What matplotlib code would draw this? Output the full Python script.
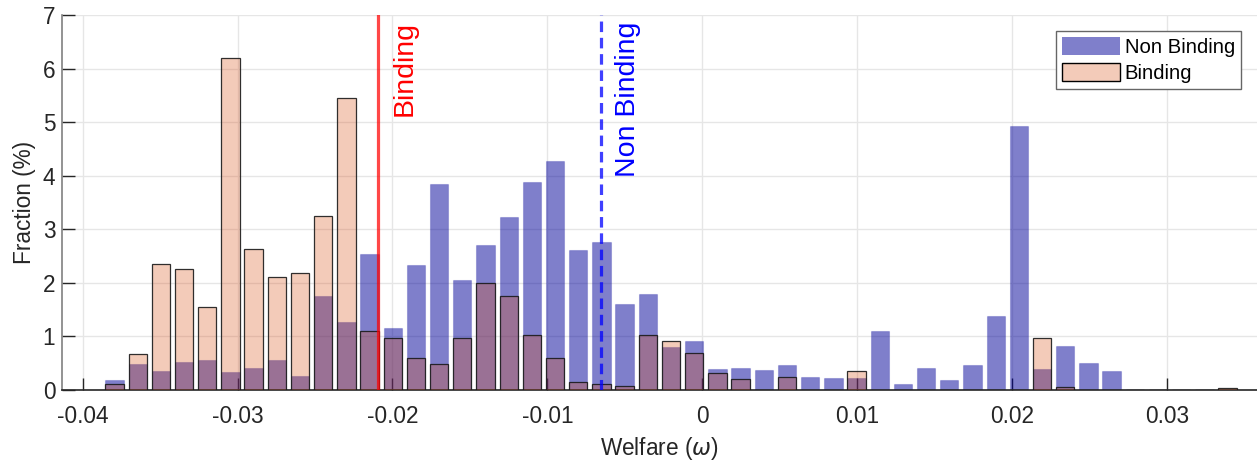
import numpy as np
import matplotlib
matplotlib.use("Agg")
import matplotlib.pyplot as plt
from matplotlib.patches import Patch

plt.rcParams['font.family'] = ['Liberation Sans', 'DejaVu Sans']
plt.rcParams['mathtext.fontset'] = 'dejavusans'

# histogram bins (49 bins of equal width)
bin_lo = -0.03869
bin_hi = 0.03465
n_bins = 49

# fraction (%) per bin
non_binding = [0.19, 0.49, 0.36, 0.52, 0.56, 0.33, 0.42, 0.56, 0.27, 1.75,
               1.27, 2.53, 1.15, 2.33, 3.84, 2.06, 2.71, 3.23, 3.88, 4.28,
               2.61, 2.77, 1.60, 1.79, 0.81, 0.92, 0.40, 0.41, 0.37, 0.46,
               0.24, 0.22, 0.22, 1.10, 0.11, 0.41, 0.19, 0.46, 1.38, 4.93,
               0.40, 0.83, 0.51, 0.36, 0.0, 0.0, 0.0, 0.0, 0.0]
binding = [0.11, 0.67, 2.36, 2.25, 1.55, 6.20, 2.63, 2.11, 2.19, 3.25,
           5.46, 1.10, 0.98, 0.59, 0.49, 0.97, 1.99, 1.75, 1.03, 0.59,
           0.15, 0.11, 0.08, 1.03, 0.91, 0.70, 0.31, 0.21, 0.0, 0.24,
           0.0, 0.0, 0.36, 0.0, 0.0, 0.0, 0.0, 0.0, 0.0, 0.0,
           0.97, 0.05, 0.0, 0.0, 0.0, 0.0, 0.0, 0.0, 0.04]

# mean welfare of each group
binding_mean = -0.02094
non_binding_mean = -0.00652

xticks = [-0.04, -0.03, -0.02, -0.01, 0, 0.01, 0.02, 0.03]
xtick_labels = ['-0.04', '-0.03', '-0.02', '-0.01', '0', '0.01', '0.02', '0.03']
yticks = [0, 1, 2, 3, 4, 5, 6, 7]

edges = np.linspace(bin_lo, bin_hi, n_bins + 1)
centers = 0.5 * (edges[:-1] + edges[1:])
bw = edges[1] - edges[0]

W, H = 1257, 463
fig = plt.figure(figsize=(W / 100, H / 100), dpi=100)
ax = fig.add_axes([62.3 / W, 1 - 390 / H, (W - 62.3) / W, 375 / H])

nb_face = (0.0, 0.0, 0.6, 0.5)
b_face = (0.85, 0.325, 0.098, 0.3)

ax.bar(centers, non_binding, width=0.79 * bw, color=nb_face,
       edgecolor=(0.0, 0.0, 0.6, 0.2), linewidth=0.8, zorder=2)
ax.bar(centers, binding, width=0.79 * bw, color=b_face,
       edgecolor=(0.1, 0.1, 0.1, 0.9), linewidth=0.9, zorder=3)

ax.axvline(binding_mean, color=(1, 0, 0, 0.72), lw=2.3, zorder=4)
ax.axvline(non_binding_mean, color=(0, 0, 1, 0.75), lw=2.3,
           linestyle=(0, (3.3, 1.8)), zorder=4)

ax.text(-0.01921, 6.88, 'Binding', rotation=90, color='red', fontsize=20.5,
        ha='center', va='top', zorder=5)
ax.text(-0.00483, 6.88, 'Non Binding', rotation=90, color='blue', fontsize=20.5,
        ha='center', va='top', zorder=5)

ax.set_xlim(-0.04131, 0.0358)
ax.set_ylim(0, 7)
ax.set_xticks(xticks)
ax.set_xticklabels(xtick_labels)
ax.set_yticks(yticks)

ax.grid(True, color='#e6e6e6', lw=1.0)
ax.set_axisbelow(True)

for s in ['top', 'right']:
    ax.spines[s].set_visible(False)
ax.spines['left'].set_color('#808080')
ax.spines['left'].set_linewidth(1.2)
ax.spines['bottom'].set_color('#262626')
ax.spines['bottom'].set_linewidth(1.2)

ax.tick_params(axis='both', direction='in', length=9, width=1.0,
               labelsize=16.3, labelcolor='#262626', color='#262626')
ax.tick_params(axis='x', pad=11)
ax.tick_params(axis='y', pad=5)

ax.set_xlabel(r'Welfare ($\omega$)', fontsize=16.3, color='#262626', labelpad=5)
ax.set_ylabel('Fraction (%)', fontsize=16.3, color='#262626', labelpad=5)

handles = [Patch(facecolor=nb_face, edgecolor='none', label='Non Binding'),
           Patch(facecolor=b_face, edgecolor='black', linewidth=1.0, label='Binding')]
leg = ax.legend(handles=handles, loc='upper right', bbox_to_anchor=(0.9866, 0.957),
                borderaxespad=0, fontsize=14.6, fancybox=False, framealpha=1,
                edgecolor='#666666', handlelength=2.85, handleheight=1.0,
                handletextpad=0.25, labelspacing=0.3, borderpad=0.3)
leg.get_frame().set_linewidth(1.0)

fig.savefig('out.png', dpi=100)
